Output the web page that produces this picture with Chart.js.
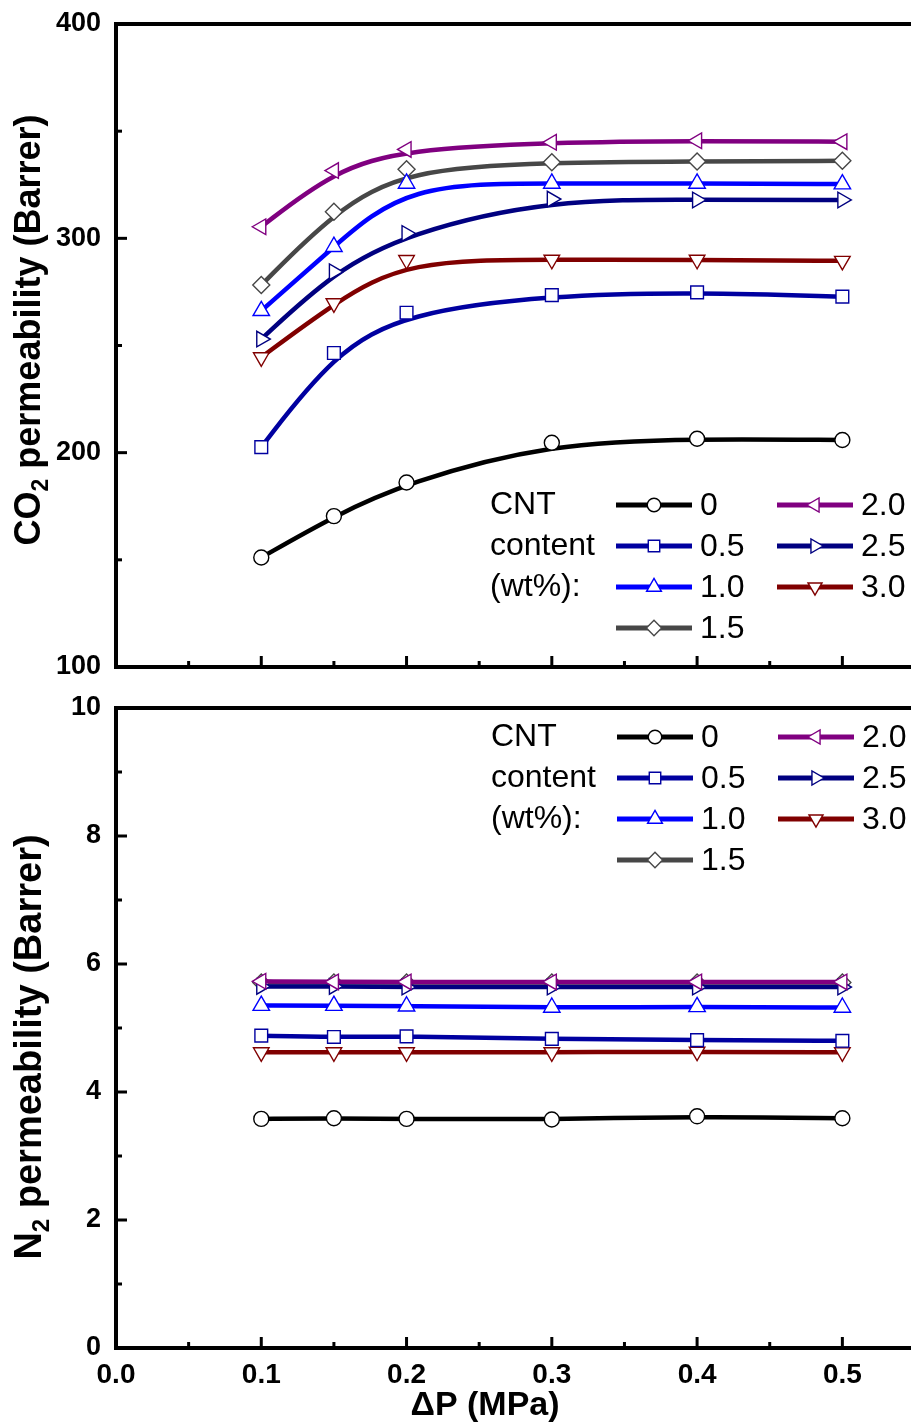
<!DOCTYPE html>
<html>
<head>
<meta charset="utf-8">
<script src="https://cdn.jsdelivr.net/npm/chart.js@4.4.1/dist/chart.umd.min.js"></script>
<style>
  html, body { margin: 0; padding: 0; background: #fff; overflow: hidden; width: 911px; height: 1425px; }
  canvas { position: absolute; left: 0; }
  #co2Chart { top: 0; }
  #n2Chart { top: 690px; }
</style>
</head>
<body>
<canvas id="co2Chart" width="915" height="690"></canvas>
<canvas id="n2Chart" width="915" height="735"></canvas>
<script>
const FONT = '"Liberation Sans", Arial, Helvetica, sans-serif';

//-----------------------------------------------------------------------------
// data
//-----------------------------------------------------------------------------
const pressure = [0.1, 0.15, 0.2, 0.3, 0.4, 0.5];          // dP (MPa)
const cntLabels = ['0', '0.5', '1.0', '1.5', '2.0', '2.5', '3.0'];  // wt%

// CO2 permeability (Barrer) for each CNT content
const co2_00 = [151.1, 170.4, 186.1, 204.6, 206.5, 205.9];
const co2_05 = [202.6, 246.5, 265.3, 273.5, 274.8, 272.8];
const co2_10 = [266.2, 296.1, 325.6, 325.6, 325.6, 325.3];
const co2_15 = [278.2, 312.4, 332.2, 335.5, 335.8, 336.2];
const co2_20 = [305.4, 331.6, 341.5, 344.8, 345.5, 345.1];
const co2_25 = [253.0, 284.4, 302.3, 318.3, 317.9, 317.9];
const co2_30 = [244.5, 269.7, 289.9, 290.0, 290.0, 289.5];

// N2 permeability (Barrer) for each CNT content
const n2_00 = [3.58, 3.59, 3.58, 3.57, 3.62, 3.59];
const n2_05 = [4.88, 4.86, 4.87, 4.83, 4.81, 4.80];
const n2_10 = [5.35, 5.35, 5.34, 5.32, 5.33, 5.32];
const n2_15 = [5.71, 5.71, 5.71, 5.71, 5.71, 5.71];
const n2_20 = [5.73, 5.72, 5.72, 5.72, 5.72, 5.72];
const n2_25 = [5.65, 5.65, 5.64, 5.64, 5.64, 5.64];
const n2_30 = [4.62, 4.62, 4.62, 4.62, 4.63, 4.62];

// axis ticks
const xMajorTicks   = [0, 0.1, 0.2, 0.3, 0.4, 0.5];
const xMinorTicks   = [0.05, 0.15, 0.25, 0.35, 0.45, 0.55];
const co2MajorTicks = [100, 200, 300, 400];
const co2MinorTicks = [150, 250, 350];
const n2MajorTicks  = [0, 2, 4, 6, 8, 10];
const n2MinorTicks  = [1, 3, 5, 7, 9];

// series look
const seriesColors  = ['#000000', '#0000a0', '#0000ff', '#474747', '#800080', '#000080', '#800000'];
const markerStyles  = ['circle', 'rect', 'triangle', 'rectRot', 'triangle', 'triangle', 'triangle'];
const markerRotate  = [0, 0, 0, 0, -90, 90, 180];
const markerSize    = [7.5, 9, 9.5, 8.5, 9, 9, 9];

//-----------------------------------------------------------------------------
// helpers
//-----------------------------------------------------------------------------
function buildDatasets(seriesList){
    return seriesList.map((values, i) => ({
        label: cntLabels[i],
        data: values.map((v, j) => ({x: pressure[j], y: v})),
        showLine: false,                // curve is drawn by the bspline plugin
        borderColor: seriesColors[i],
        borderWidth: 4.5,
        backgroundColor: seriesColors[i],
        pointStyle: markerStyles[i],
        pointRotation: markerRotate[i],
        pointRadius: markerSize[i],
        pointBorderWidth: 1.4,
        pointBorderColor: seriesColors[i],
        pointBackgroundColor: '#ffffff',
        order: i === 3 ? 1 : 0          // keep the 1.5 curve under the others
    }));
}

function setTicks(major, minor){
    return function(scale){
        const all = major.map(v => ({value: v, isMajor: true}))
            .concat(minor.map(v => ({value: v, isMajor: false})));
        all.sort((a, b) => a.value - b.value);
        scale.ticks = all;
    };
}

// smooth B-spline through the point elements (end points clamped),
// drawn just before each dataset's markers
const bspline = {
    id: 'bspline',
    beforeDatasetDraw(chart, args){
        const pts = args.meta.data.map(p => ({x: p.x, y: p.y}));
        if (pts.length < 2) return;
        const ds = chart.data.datasets[args.index];
        const q = [pts[0], pts[0]].concat(pts, [pts[pts.length - 1], pts[pts.length - 1]]);
        const ctx = chart.ctx;
        ctx.save();
        ctx.strokeStyle = ds.borderColor;
        ctx.lineWidth = ds.borderWidth;
        ctx.lineJoin = 'round';
        ctx.lineCap = 'round';
        ctx.beginPath();
        for (let i = 1; i < q.length - 2; i++){
            const a = q[i - 1], b = q[i], c = q[i + 1], d = q[i + 2];
            const sx = (a.x + 4 * b.x + c.x) / 6, sy = (a.y + 4 * b.y + c.y) / 6;
            if (i === 1) ctx.moveTo(sx, sy);
            ctx.bezierCurveTo(
                (2 * b.x + c.x) / 3, (2 * b.y + c.y) / 3,
                (b.x + 2 * c.x) / 3, (b.y + 2 * c.y) / 3,
                (b.x + 4 * c.x + d.x) / 6, (b.y + 4 * c.y + d.y) / 6);
        }
        ctx.stroke();
        ctx.restore();
    }
};

// inward tick marks + top frame line
const frame = {
    id: 'frame',
    afterDraw(chart){
        const {ctx, chartArea: a, scales: {x, y}} = chart;
        ctx.save();
        ctx.strokeStyle = '#000';
        ctx.lineWidth = 4;
        ctx.beginPath();
        ctx.moveTo(a.left - 2, a.top);
        ctx.lineTo(a.right, a.top);
        ctx.stroke();
        ctx.lineWidth = 3;
        x.ticks.forEach(t => {
            const px = x.getPixelForValue(t.value);
            const len = t.isMajor ? 11 : 6;
            ctx.beginPath();
            ctx.moveTo(px, a.bottom);
            ctx.lineTo(px, a.bottom - len);
            ctx.stroke();
        });
        y.ticks.forEach(t => {
            const py = y.getPixelForValue(t.value);
            const len = t.isMajor ? 11 : 6;
            ctx.beginPath();
            ctx.moveTo(a.left, py);
            ctx.lineTo(a.left + len, py);
            ctx.stroke();
        });
        ctx.restore();
    }
};

// legend block: "CNT content (wt%):" + two columns of entries
const cntLegend = {
    id: 'cntLegend',
    afterDraw(chart, args, o){
        const ctx = chart.ctx;
        ctx.save();
        ctx.font = '32px ' + FONT;
        ctx.textBaseline = 'middle';
        ctx.fillStyle = '#000';
        ['CNT', 'content', '(wt%):'].forEach((s, i) => ctx.fillText(s, o.x, o.y + i * o.gap));
        chart.data.datasets.forEach((ds, i) => {
            const col = i < 4 ? 0 : 1;
            const row = i < 4 ? i : i - 4;
            const x0 = o.x + 126 + col * 161;
            const yy = o.y + row * o.gap;
            ctx.strokeStyle = ds.borderColor;
            ctx.lineWidth = 5;
            ctx.beginPath();
            ctx.moveTo(x0, yy);
            ctx.lineTo(x0 + 76, yy);
            ctx.stroke();
            ctx.fillStyle = '#fff';
            ctx.lineWidth = 1.4;
            Chart.helpers.drawPoint(ctx, {
                pointStyle: ds.pointStyle,
                rotation: ds.pointRotation,
                radius: ds.pointRadius * 0.9,
                borderWidth: 1.4
            }, x0 + 38, yy);
            ctx.fillStyle = '#000';
            ctx.fillText(ds.label, x0 + 84, yy + 1);
        });
        ctx.restore();
    }
};

// y title with subscript, x title
const axisTitles = {
    id: 'axisTitles',
    afterDraw(chart, args, o){
        const ctx = chart.ctx;
        ctx.save();
        ctx.fillStyle = '#000';
        ctx.save();
        ctx.translate(o.yX, o.yY);
        ctx.rotate(-Math.PI / 2);
        const big = 'bold ' + o.size + 'px ' + FONT;
        const small = 'bold ' + Math.round(o.size * 0.64) + 'px ' + FONT;
        const rest = ' permeability (Barrer)';
        ctx.font = big;
        const w1 = ctx.measureText(o.gas).width;
        const w3 = ctx.measureText(rest).width;
        ctx.font = small;
        const w2 = ctx.measureText('2').width;
        let tx = -(w1 + w2 + w3) / 2;
        ctx.textBaseline = 'alphabetic';
        ctx.font = big;   ctx.fillText(o.gas, tx, 0); tx += w1;
        ctx.font = small; ctx.fillText('2', tx, 8);   tx += w2;
        ctx.font = big;   ctx.fillText(rest, tx, 0);
        ctx.restore();
        if (o.xTitle){
            ctx.font = 'bold 34px ' + FONT;
            ctx.textAlign = 'center';
            ctx.textBaseline = 'middle';
            ctx.fillText(o.xTitle, o.xX, o.xY);
        }
        ctx.restore();
    }
};

function makeOptions(cfg){
    return {
        responsive: false,
        animation: false,
        devicePixelRatio: 1,
        layout: {autoPadding: false, padding: {top: cfg.padTop, left: 0, right: 0, bottom: 0}},
        plugins: {
            legend: {display: false},
            tooltip: {enabled: false},
            cntLegend: cfg.legend,
            axisTitles: cfg.titles
        },
        scales: {
            x: {
                type: 'linear',
                min: 0,
                max: 0.55,
                afterBuildTicks: setTicks(xMajorTicks, xMinorTicks),
                afterFit: s => { s.height = cfg.xHeight; s.paddingLeft = 0; s.paddingRight = 0; },
                grid: {display: false, drawTicks: false},
                border: {display: true, color: '#000', width: 4},
                ticks: {
                    display: cfg.showX,
                    autoSkip: false,
                    maxRotation: 0,
                    padding: 10,
                    color: '#000',
                    font: {family: FONT, size: 28, weight: 'bold'},
                    callback: (v, i, ticks) => ticks[i].isMajor ? v.toFixed(1) : ''
                }
            },
            y: {
                type: 'linear',
                min: cfg.yMin,
                max: cfg.yMax,
                afterBuildTicks: setTicks(cfg.yMajor, cfg.yMinor),
                afterFit: s => { s.width = 116; s.paddingTop = 0; s.paddingBottom = 0; },
                grid: {display: false, drawTicks: false},
                border: {display: true, color: '#000', width: 4},
                ticks: {
                    autoSkip: false,
                    padding: 15,
                    color: '#000',
                    font: {family: FONT, size: 27, weight: 'bold'},
                    callback: (v, i, ticks) => ticks[i].isMajor ? String(v) : ''
                }
            }
        }
    };
}

//-----------------------------------------------------------------------------
// CO2 panel
//-----------------------------------------------------------------------------
new Chart(document.getElementById('co2Chart'), {
    type: 'line',
    data: {datasets: buildDatasets([co2_00, co2_05, co2_10, co2_15, co2_20, co2_25, co2_30])},
    options: makeOptions({
        padTop: 24, xHeight: 23, showX: false,
        yMin: 100, yMax: 400, yMajor: co2MajorTicks, yMinor: co2MinorTicks,
        legend: {x: 490, y: 505, gap: 41},
        titles: {gas: 'CO', size: 36, yX: 40, yY: 330}
    }),
    plugins: [bspline, frame, cntLegend, axisTitles]
});

//-----------------------------------------------------------------------------
// N2 panel
//-----------------------------------------------------------------------------
new Chart(document.getElementById('n2Chart'), {
    type: 'line',
    data: {datasets: buildDatasets([n2_00, n2_05, n2_10, n2_15, n2_20, n2_25, n2_30])},
    options: makeOptions({
        padTop: 18, xHeight: 77, showX: true,
        yMin: 0, yMax: 10, yMajor: n2MajorTicks, yMinor: n2MinorTicks,
        legend: {x: 491, y: 47, gap: 41},
        titles: {gas: 'N', size: 38, yX: 41, yY: 357, xTitle: 'ΔP (MPa)', xX: 485, xY: 716}
    }),
    plugins: [bspline, frame, cntLegend, axisTitles]
});
</script>
</body>
</html>
